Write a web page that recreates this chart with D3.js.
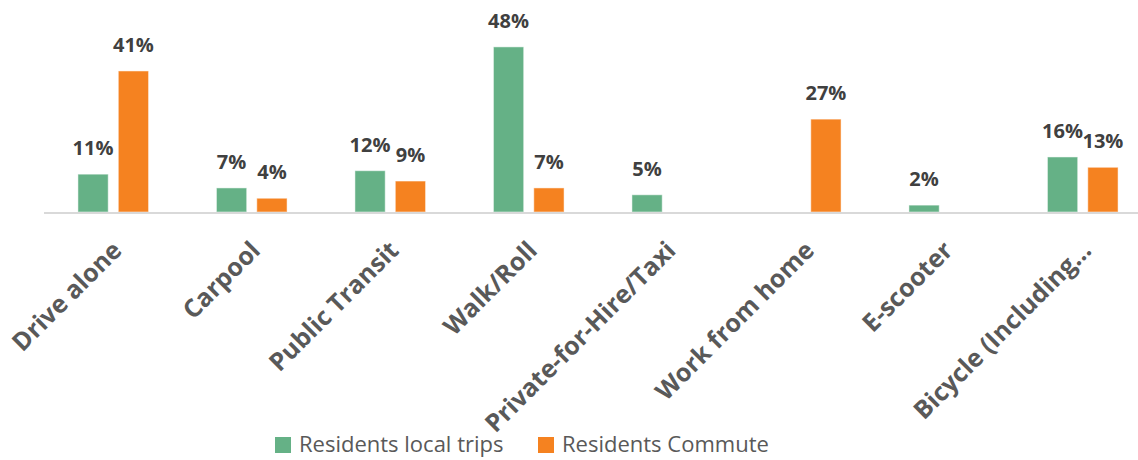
<!DOCTYPE html>
<html>
<head>
<meta charset="utf-8">
<script src="https://cdn.jsdelivr.net/npm/d3@7"></script>
<style>
  body { margin: 0; background: #fff; }
  svg { display: block; font-family: "Open Sans", sans-serif; }
</style>
</head>
<body>
<svg id="chart" width="1138" height="460"></svg>
<script>
// Data
const categories = ["Drive alone", "Carpool", "Public Transit", "Walk/Roll",
    "Private-for-Hire/Taxi", "Work from home", "E-scooter", "Bicycle (Including..."];
const seriesNames = ["Residents local trips", "Residents Commute"];
const localTrips = [11, 7, 12, 48, 5, null, 2, 16];
const commute = [41, 4, 9, 7, null, 27, null, 13];

const colors = ["#65b186", "#f58220"];
const baseY = 212;

const svg = d3.select("#chart");

// scales
const x = d3.scaleBand()
    .domain(categories)
    .range([44, 1152])
    .paddingInner(0)
    .paddingOuter(0);

const x1 = d3.scaleBand()
    .domain(seriesNames)
    .range([x.bandwidth() * 0.245, x.bandwidth() * 0.755])
    .paddingInner(0.25);

const y = d3.scaleLinear()
    .domain([0, 50])
    .range([baseY, 40]);

const rows = categories.map((c, i) => ({
    cat: c,
    vals: [localTrips[i], commute[i]]
}));

const groups = svg.selectAll("g.grp")
    .data(rows)
    .enter()
    .append("g")
    .attr("class", "grp")
    .attr("transform", d => `translate(${x(d.cat)},0)`);

const cells = groups.selectAll("g.cell")
    .data(d => d.vals.map((v, j) => ({v: v, s: seriesNames[j], j: j})).filter(e => e.v != null))
    .enter()
    .append("g")
    .attr("class", "cell");

cells.append("rect")
    .attr("x", d => x1(d.s))
    .attr("width", x1.bandwidth())
    .attr("y", d => y(d.v))
    .attr("height", d => baseY - y(d.v))
    .attr("fill", d => colors[d.j])
    .attr("stroke", "#ffffff")
    .attr("stroke-opacity", 0.5)
    .attr("stroke-width", 1);

cells.append("text")
    .attr("x", d => x1(d.s) + x1.bandwidth() / 2)
    .attr("y", d => y(d.v) - 19)
    .attr("text-anchor", "middle")
    .attr("font-size", "20px")
    .attr("font-weight", "bold")
    .attr("fill", "#404040")
    .text(d => d.v + "%");

// axis line
svg.append("line")
    .attr("x1", 44).attr("x2", 1138)
    .attr("y1", baseY + 1).attr("y2", baseY + 1)
    .attr("stroke", "#d9d9d9")
    .attr("stroke-width", 2);

// category labels
svg.selectAll("text.cat")
    .data(categories)
    .enter()
    .append("text")
    .attr("class", "cat")
    .attr("text-anchor", "end")
    .attr("font-size", "25px")
    .attr("font-weight", "bold")
    .attr("fill", "#595959")
    .attr("transform", d => `translate(${x(d) + x.bandwidth() / 2 + 10},${baseY + 40}) rotate(-45)`)
    .text(d => d);

// legend
const legend = svg.append("g");
const legendX = [275, 538];
seriesNames.forEach((n, i) => {
    legend.append("rect")
        .attr("x", legendX[i]).attr("y", 437)
        .attr("width", 16).attr("height", 16)
        .attr("fill", colors[i]);
    legend.append("text")
        .attr("x", legendX[i] + 24).attr("y", 452)
        .attr("font-size", "22px")
        .attr("fill", "#595959")
        .text(n);
});
</script>
</body>
</html>
